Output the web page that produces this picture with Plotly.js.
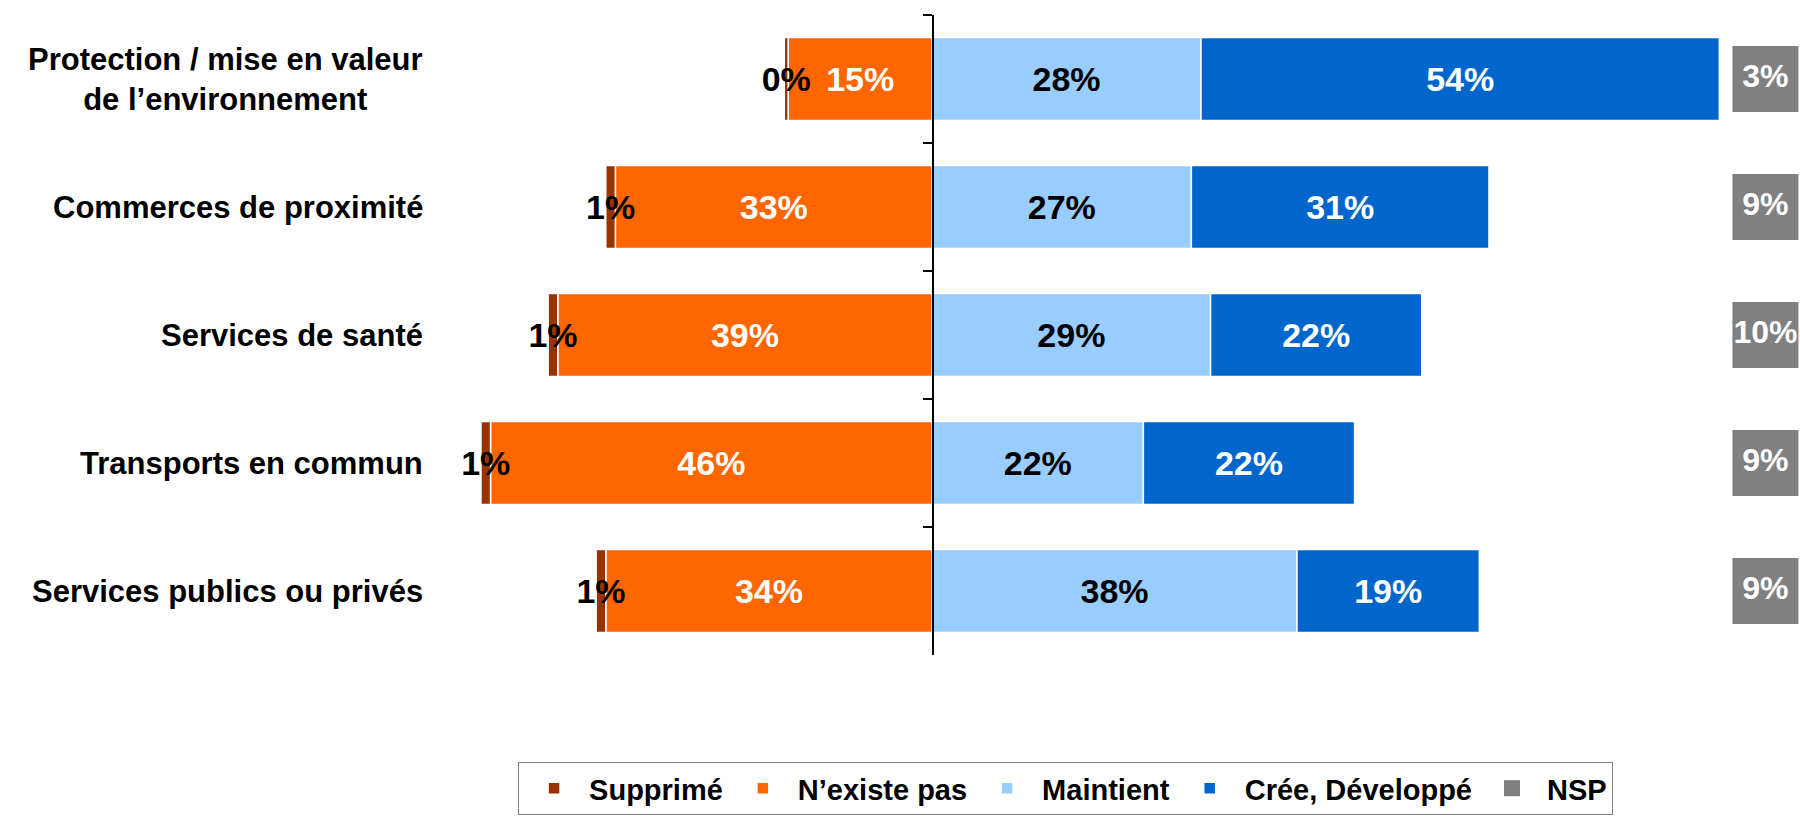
<!DOCTYPE html>
<html>
<head>
<meta charset="utf-8">
<script src="https://cdn.plot.ly/plotly-3.0.1.min.js"></script>
<style>
html, body { margin: 0; padding: 0; background: #ffffff; }
#chart { width: 1800px; height: 823px; }
</style>
</head>
<body>
<div id="chart"></div>
<script>
// ---- Data ----
const categories = [
  "Protection / mise en valeur<br>de l’environnement",
  "Commerces de proximité",
  "Services de santé",
  "Transports en commun",
  "Services publics ou privés"
];
const supprime  = [0.4, 1, 1, 1, 1];
const nexiste   = [15, 33, 39, 46, 34];
const maintient = [28, 27, 29, 22, 38];
const cree      = [54, 31, 22, 22, 19];
const nsp       = [3, 9, 10, 9, 9];
const seriesNames = ["Supprimé", "N’existe pas", "Maintient", "Crée, Développé", "NSP"];

// ---- Styles ----
const FONT = "Liberation Sans, Arial, Helvetica, sans-serif";
const COLORS = ["#993300", "#FF6600", "#99CCFF", "#0066CC", "#808080"];
const X_RANGE = [-97.1, 90.4];
const ZERO_POS = (0 - X_RANGE[0]) / (X_RANGE[1] - X_RANGE[0]);
const NSP_POS = X_RANGE[1] - 3.6;
const LABEL_RIGHT = 0.236;
const pct = v => Math.round(v) + "%";
const barLine = { color: "#ffffff", width: 1.5 };

function barTrace(vals, sign, idx, textColor) {
  return {
    type: "bar",
    orientation: "h",
    y: categories,
    x: vals.map(v => sign * v),
    name: seriesNames[idx],
    legendrank: idx + 1,
    marker: { color: COLORS[idx], line: barLine },
    text: vals.map(pct),
    textposition: "inside",
    insidetextanchor: "middle",
    constraintext: "none",
    textangle: 0,
    textfont: { family: FONT, size: 34, color: textColor, weight: "bold" },
    hoverinfo: "skip"
  };
}

const traces = [
  barTrace(nexiste, -1, 1, "#ffffff"),
  barTrace(supprime, -1, 0, "#000000"),
  barTrace(maintient, 1, 2, "#000000"),
  barTrace(cree, 1, 3, "#ffffff"),
  {
    type: "scatter",
    mode: "markers+text",
    y: categories,
    x: categories.map(() => NSP_POS),
    name: seriesNames[4],
    legendrank: 5,
    text: nsp.map(pct),
    textposition: "middle center",
    textfont: { family: FONT, size: 32, color: "#ffffff", weight: "bold" },
    marker: { symbol: "square", size: 66, color: COLORS[4] },
    cliponaxis: false,
    hoverinfo: "skip"
  }
];

const layout = {
  width: 1800,
  height: 823,
  margin: { l: 0, r: 0, t: 15, b: 168 },
  paper_bgcolor: "#ffffff",
  plot_bgcolor: "#ffffff",
  barmode: "relative",
  bargap: 0.35,
  hovermode: false,
  font: { family: FONT, color: "#000000" },
  xaxis: { range: X_RANGE, visible: false, fixedrange: true },
  yaxis: {
    type: "category",
    categoryorder: "array",
    categoryarray: categories,
    range: [4.5, -0.5],
    anchor: "free",
    position: ZERO_POS,
    showline: true,
    linecolor: "#000000",
    linewidth: 1.5,
    ticks: "outside",
    tickson: "boundaries",
    ticklen: 9,
    tickwidth: 1.5,
    tickcolor: "#000000",
    showticklabels: false,
    showgrid: false,
    zeroline: false,
    fixedrange: true
  },
  showlegend: true,
  legend: {
    orientation: "h",
    x: 0.592,
    xanchor: "center",
    y: -0.167,
    yanchor: "top",
    bgcolor: "#ffffff",
    bordercolor: "#7f7f7f",
    borderwidth: 1,
    itemwidth: 60,
    font: { family: FONT, size: 29, color: "#000000", weight: "bold" }
  },
  annotations: categories.map(c => ({
    xref: "paper",
    yref: "y",
    x: LABEL_RIGHT,
    y: c,
    xanchor: "right",
    yanchor: "middle",
    text: c,
    align: "center",
    showarrow: false,
    font: { family: FONT, size: 31, color: "#000000", weight: "bold" }
  }))
};

Plotly.newPlot("chart", traces, layout, { staticPlot: true, displayModeBar: false });
</script>
</body>
</html>
